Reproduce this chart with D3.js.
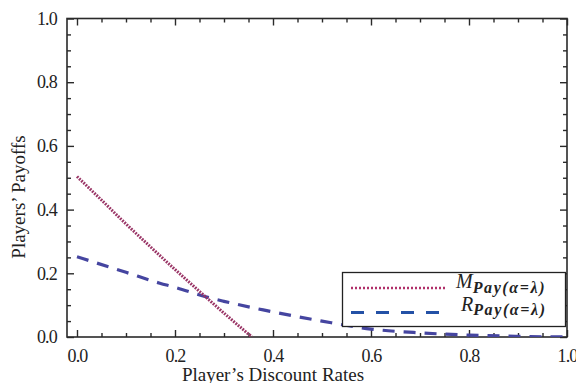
<!DOCTYPE html>
<html>
<head>
<meta charset="utf-8">
<script src="https://cdn.jsdelivr.net/npm/d3@7"></script>
<style>
  body { margin: 0; background: #fff; }
  svg text { font-family: "Liberation Serif", "DejaVu Serif", serif; fill: #222; }
</style>
</head>
<body>
<div id="chart"></div>
<script>
var svgWidth = 576;
var svgHeight = 383;

// data
var mRates = [0, 0.05, 0.1, 0.15, 0.2, 0.25, 0.3, 0.357];
var mPayoffs = [0.504, 0.43, 0.355, 0.283, 0.212, 0.143, 0.075, 0];
var rRates = [0, 0.1, 0.169, 0.2, 0.261, 0.3, 0.38, 0.5, 0.6, 0.7, 0.8, 0.9, 1.0];
var rPayoffs = [0.252, 0.203, 0.169, 0.156, 0.127, 0.112, 0.085, 0.05, 0.025, 0.013, 0.006, 0.002, 0.0];
var majorTicks = [0, 0.2, 0.4, 0.6, 0.8, 1.0];
var minorTicks = [0.05, 0.1, 0.15, 0.25, 0.3, 0.35, 0.45, 0.5, 0.55, 0.65, 0.7, 0.75, 0.85, 0.9, 0.95];
var legendNames = ["M", "R"];
var legendSub = "Pay(\u03b1=\u03bb)";

var plot = { left: 67, right: 567, top: 18.5, bottom: 337 };
var serif = "Liberation Serif, DejaVu Serif, serif";

var svg = d3.select("#chart")
  .append("svg")
  .attr("width", svgWidth)
  .attr("height", svgHeight);

var x = d3.scaleLinear().domain([-0.0204, 1.0]).range([plot.left, plot.right]);
var y = d3.scaleLinear().domain([0, 1]).range([plot.bottom, plot.top]);

var fmt = d3.format(".1f");

// minor ticks on all sides (inward)
function minorAxis(axisFn, scale, tr) {
  svg.append("g")
    .attr("transform", tr)
    .call(axisFn(scale).tickValues(minorTicks).tickSize(-4).tickFormat(""))
    .call(function(g) { g.select(".domain").remove(); g.selectAll("line").attr("stroke", "#2a2a2a").attr("stroke-width", 1.4); });
}
minorAxis(d3.axisBottom, x, "translate(0," + plot.bottom + ")");
minorAxis(d3.axisTop, x, "translate(0," + plot.top + ")");
minorAxis(d3.axisLeft, y, "translate(" + plot.left + ",0)");
minorAxis(d3.axisRight, y, "translate(" + plot.right + ",0)");

// major ticks
var bx = svg.append("g")
  .attr("transform", "translate(0," + plot.bottom + ")")
  .call(d3.axisBottom(x).tickValues(majorTicks).tickSize(-7).tickPadding(12).tickFormat(fmt));
var tx = svg.append("g")
  .attr("transform", "translate(0," + plot.top + ")")
  .call(d3.axisTop(x).tickValues(majorTicks).tickSize(-7).tickFormat(""));
var ly = svg.append("g")
  .attr("transform", "translate(" + plot.left + ",0)")
  .call(d3.axisLeft(y).tickValues(majorTicks).tickSize(-7).tickPadding(10).tickFormat(fmt));
var ry = svg.append("g")
  .attr("transform", "translate(" + plot.right + ",0)")
  .call(d3.axisRight(y).tickValues(majorTicks).tickSize(-7).tickFormat(""));

[bx, tx, ly, ry].forEach(function(g) {
  g.attr("font-family", serif).attr("font-size", 18);
  g.select(".domain").remove();
  g.selectAll("line").attr("stroke", "#2a2a2a").attr("stroke-width", 1.4);
  g.selectAll("text")
    .style("font-size", "18px")
    .style("letter-spacing", "-0.8px")
    .attr("fill", "#1a1a30");
});

// frame
svg.append("rect")
  .attr("x", plot.left).attr("y", plot.top)
  .attr("width", plot.right - plot.left).attr("height", plot.bottom - plot.top)
  .attr("fill", "none")
  .attr("stroke", "#2a2a2a")
  .attr("stroke-width", 1.6);

// lines
svg.append("clipPath").attr("id", "plotclip")
  .append("rect").attr("x", plot.left).attr("y", plot.top)
  .attr("width", plot.right - plot.left).attr("height", plot.bottom - plot.top);

var line = d3.line()
  .x(function(d) { return x(d[0]); })
  .y(function(d) { return y(d[1]); })
  .curve(d3.curveMonotoneX);

svg.append("path")
  .datum(rRates.map(function(r, i) { return [r, rPayoffs[i]]; }))
  .attr("clip-path", "url(#plotclip)")
  .attr("d", line)
  .attr("fill", "none")
  .attr("stroke", "#4545a0")
  .attr("stroke-width", 3.2)
  .attr("stroke-dasharray", "12,9");

svg.append("path")
  .datum(mRates.map(function(r, i) { return [r, mPayoffs[i]]; }))
  .attr("clip-path", "url(#plotclip)")
  .attr("d", line)
  .attr("fill", "none")
  .attr("stroke", "#9a3566")
  .attr("stroke-width", 3)
  .attr("stroke-dasharray", "1.8,1.2");

// legend
var legend = svg.append("g");
legend.append("rect")
  .attr("x", 342.5).attr("y", 272.5)
  .attr("width", 223).attr("height", 54)
  .attr("fill", "#fff")
  .attr("stroke", "#222")
  .attr("stroke-width", 1.3);

var legendStyles = [
  { color: "#b0306a", dash: "2,2", width: 2.4, y: 288, ty: 288 },
  { color: "#2451a6", dash: "13,12", width: 3, y: 312.5, ty: 310.5 }
];

legendNames.forEach(function(name, i) {
  var st = legendStyles[i];
  legend.append("line")
    .attr("x1", 351).attr("x2", 447)
    .attr("y1", st.y).attr("y2", st.y)
    .attr("stroke", st.color)
    .attr("stroke-width", st.width)
    .attr("stroke-dasharray", st.dash);
  var t = legend.append("text")
    .attr("x", i === 0 ? 456 : 461)
    .attr("y", st.ty)
    .style("font-size", "20px")
    .style("font-style", "italic")
    .attr("fill", "#1f1f33");
  t.append("tspan").text(name);
  t.append("tspan")
    .attr("dy", 4.5)
    .style("font-size", "16px")
    .style("font-weight", "bold")
    .style("letter-spacing", "1.6px")
    .text(legendSub);
});

// axis titles
svg.append("text")
  .attr("x", 273)
  .attr("y", 381)
  .attr("text-anchor", "middle")
  .style("font-size", "19px")
  .text("Player\u2019s Discount Rates");

svg.append("text")
  .attr("transform", "translate(25,197) rotate(-90)")
  .attr("text-anchor", "middle")
  .style("font-size", "19px")
  .text("Players\u2019 Payoffs");
</script>
</body>
</html>
